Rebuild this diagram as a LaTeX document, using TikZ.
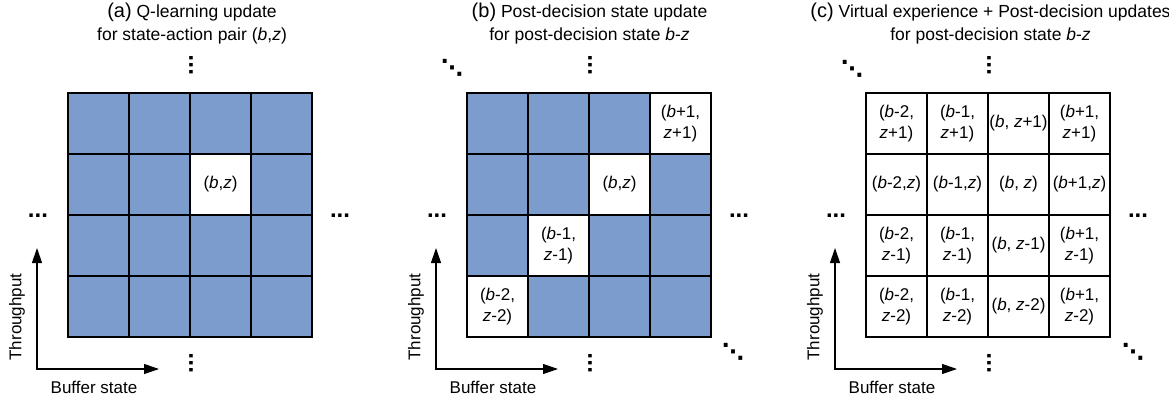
\documentclass[tikz,border=0pt]{standalone}
\usepackage{fontspec}
\setmainfont{Liberation Sans}
\newfontfamily\dotsfont{DejaVu Sans}
\usetikzlibrary{arrows.meta,positioning}
\definecolor{cellblue}{RGB}{123,156,205}
\newcommand{\vb}{\textit{b}}
\newcommand{\vz}{\textit{z}}
\tikzset{
  cell/.style={draw, line width=2pt, minimum size=61pt, inner sep=0pt, outer sep=0pt, align=center, font=\fontsize{17}{21}\selectfont},
  bluecell/.style={cell, fill=cellblue},
  whitecell/.style={cell, fill=white},
  ellip/.style={inner sep=0pt, font=\fontsize{24}{24}\selectfont\bfseries},
  diagellip/.style={inner sep=0pt, font=\fontsize{22}{22}\dotsfont\bfseries},
  paneltitle/.style={align=center, font=\fontsize{17.5}{23}\selectfont},
  axislabel/.style={font=\fontsize{17}{20}\selectfont},
  axisarrow/.style={line width=1.2pt, {Triangle[length=15pt,width=10pt]}-{Triangle[length=15pt,width=10pt]}},
}

\begin{document}
\begin{tikzpicture}[x=1pt, y=-1pt]
    \useasboundingbox (0,0) rectangle (1169,401);

    % titles
    \node[paneltitle] (a-title) at (192,24) {{\fontsize{20}{23}\selectfont(a)} Q-learning update\\for state-action pair (\vb,\vz)};
    \node[paneltitle] (b-title) at (589.5,24) {{\fontsize{20}{23}\selectfont(b)} Post-decision state update\\for post-decision state \vb-\vz};
    \node[paneltitle] (c-title) at (990.5,24) {{\fontsize{20}{23}\selectfont(c)} Virtual experience + Post-decision updates\\for post-decision state \vb-\vz};

    % dots, axes and axis labels of each panel
    \foreach \p/\x in {a/68, b/467, c/866} {
        \node[ellip, rotate=90] (\p-top) at ({\x+123},65) {...};
        \node[ellip, rotate=90] (\p-bot) at ({\x+123},363) {...};
        \node[ellip] (\p-left) at ({\x-30},216) {...};
        \node[ellip] (\p-right) at ({\x+272},216) {...};
        \coordinate (\p-o) at ({\x-31},369);
        \coordinate (\p-y) at ({\x-31},248);
        \coordinate (\p-x) at ({\x+91},369);
        \draw[axisarrow] (\p-y) -- (\p-o) -- (\p-x);
        \node[axislabel, rotate=90] (\p-ylab) at ({\x-51},317) {Throughput};
        \node[axislabel] (\p-xlab) at ({\x+26},387) {Buffer state};
    }
    \node[diagellip] (b-tl) at (452,68) {⋱};
    \node[diagellip] (b-br) at (733,352) {⋱};
    \node[diagellip] (c-tl) at (852,69) {⋱};
    \node[diagellip] (c-br) at (1133,352) {⋱};

    % (a) Q-learning grid
    \foreach \row in {1,...,4}
        \foreach \col in {1,...,4} {
            \ifnum\row\col=23 \else
                \node[bluecell] (a\row\col) at ({68+(\col-0.5)*61},{93+(\row-0.5)*61}) {};
            \fi
        }
    \node[whitecell] (a23) at ({68+2.5*61},{93+1.5*61}) {(\vb,\vz)};

    % (b) post-decision grid
    \foreach \row in {1,...,4}
        \foreach \col in {1,...,4} {
            \pgfmathtruncatemacro\s{\row+\col}
            \ifnum\s=5 \else
                \node[bluecell] (b\row\col) at ({467+(\col-0.5)*61},{93+(\row-0.5)*61}) {};
            \fi
        }
    \node[whitecell] (b14) at ({467+3.5*61},{93+0.5*61}) {(\vb+1,\\\vz+1)};
    \node[whitecell] (b23) at ({467+2.5*61},{93+1.5*61}) {(\vb,\vz)};
    \node[whitecell] (b32) at ({467+1.5*61},{93+2.5*61}) {(\vb-1,\\\vz-1)};
    \node[whitecell] (b41) at ({467+0.5*61},{93+3.5*61}) {(\vb-2,\\\vz-2)};

    % (c) virtual experience grid
    \foreach \row/\col/\txt in {
        1/1/{(\vb-2,\\\vz+1)}, 1/2/{(\vb-1,\\\vz+1)}, 1/3/{(\vb, \vz+1)}, 1/4/{(\vb+1,\\\vz+1)},
        2/1/{(\vb-2,\vz)}, 2/2/{(\vb-1,\vz)}, 2/3/{(\vb, \vz)}, 2/4/{(\vb+1,\vz)},
        3/1/{(\vb-2,\\\vz-1)}, 3/2/{(\vb-1,\\\vz-1)}, 3/3/{(\vb, \vz-1)}, 3/4/{(\vb+1,\\\vz-1)},
        4/1/{(\vb-2,\\\vz-2)}, 4/2/{(\vb-1,\\\vz-2)}, 4/3/{(\vb, \vz-2)}, 4/4/{(\vb+1,\\\vz-2)}}
        \node[whitecell] (c\row\col) at ({866+(\col-0.5)*61},{93+(\row-0.5)*61}) {\txt};
\end{tikzpicture}
\end{document}
